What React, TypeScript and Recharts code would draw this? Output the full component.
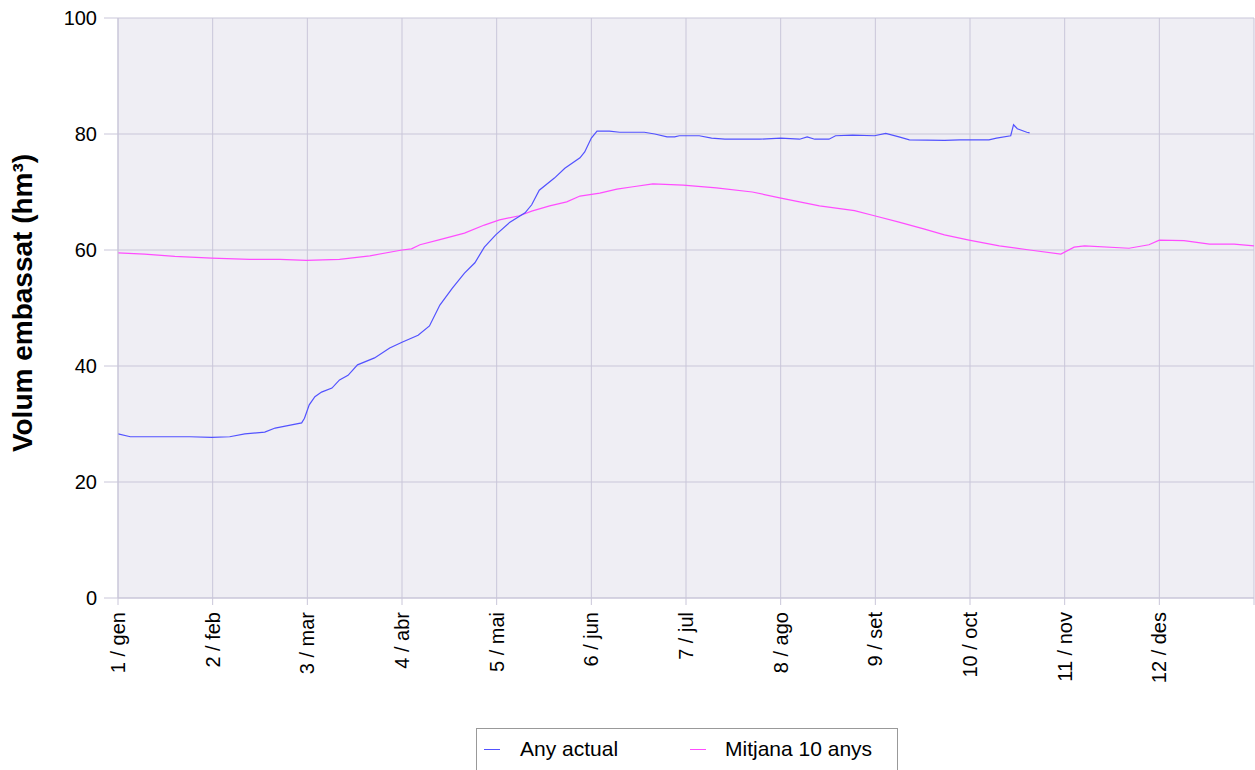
import { LineChart, Line, XAxis, YAxis, CartesianGrid } from 'recharts';

// x positions are in months from 1 January (0 = 1 / gen, 12 = end of year)
const monthLabels = ['1 / gen', '2 / feb', '3 / mar', '4 / abr', '5 / mai', '6 / jun', '7 / jul', '8 / ago', '9 / set', '10 / oct', '11 / nov', '12 / des'];
const monthTicks = [0, 1, 2, 3, 4, 5, 6, 7, 8, 9, 10, 11, 12];
const volumeTicks = [0, 20, 40, 60, 80, 100];

const actualMonths = [
  0, 0.13, 0.34, 0.76, 0.99, 1.18, 1.34, 1.55, 1.66, 1.82, 1.94, 1.97, 2.02, 2.08, 2.15, 2.26, 2.34, 2.43,
  2.53, 2.71, 2.87, 3.0, 3.17, 3.29, 3.4, 3.53, 3.66, 3.77, 3.87, 3.99, 4.14, 4.3, 4.37, 4.45, 4.61, 4.72,
  4.88, 4.93, 5.0, 5.06, 5.19, 5.3, 5.56, 5.67, 5.8, 5.88, 5.93, 6.14, 6.27, 6.41, 6.78, 7.0, 7.2, 7.28,
  7.36, 7.51, 7.58, 7.76, 7.99, 8.11, 8.25, 8.36, 8.73, 8.89, 8.99, 9.2, 9.28, 9.43, 9.46, 9.5, 9.6, 9.63,
];
const actualValues = [
  28.3, 27.8, 27.8, 27.8, 27.7, 27.8, 28.3, 28.6, 29.3, 29.8, 30.2, 31.0, 33.3, 34.7, 35.5, 36.2, 37.6, 38.4,
  40.2, 41.4, 43.1, 44.1, 45.3, 46.9, 50.5, 53.4, 56.0, 57.8, 60.5, 62.6, 64.8, 66.4, 67.8, 70.3, 72.4, 74.1,
  75.9, 76.9, 79.3, 80.5, 80.5, 80.3, 80.3, 80.0, 79.5, 79.5, 79.7, 79.7, 79.3, 79.1, 79.1, 79.3, 79.1, 79.5,
  79.1, 79.1, 79.7, 79.8, 79.7, 80.1, 79.5, 79.0, 78.9, 79.0, 79.0, 79.0, 79.3, 79.7, 81.6, 80.9, 80.3, 80.2,
];

const averageMonths = [
  0, 0.28, 0.6, 0.99, 1.39, 1.71, 1.99, 2.34, 2.66, 3.0, 3.1, 3.19, 3.4, 3.66, 3.87, 4.03, 4.24, 4.37, 4.56,
  4.74, 4.88, 5.09, 5.27, 5.44, 5.65, 5.97, 6.32, 6.7, 6.99, 7.2, 7.41, 7.78, 7.99, 8.25, 8.52, 8.73, 8.99,
  9.31, 9.63, 9.96, 10.1, 10.21, 10.68, 10.89, 11.0, 11.26, 11.53, 11.79, 12.0,
];
const averageValues = [
  59.5, 59.3, 58.9, 58.6, 58.4, 58.4, 58.2, 58.4, 59.0, 60.0, 60.2, 60.9, 61.8, 62.9, 64.3, 65.2, 65.9, 66.7, 67.6,
  68.3, 69.3, 69.8, 70.5, 70.9, 71.4, 71.2, 70.7, 70.0, 69.0, 68.3, 67.6, 66.8, 65.9, 64.8, 63.6, 62.6, 61.7,
  60.7, 60.0, 59.3, 60.5, 60.7, 60.3, 60.9, 61.7, 61.6, 61.0, 61.0, 60.7,
];

const actualData = actualMonths.map((m, i) => ({ month: m, value: actualValues[i] }));
const averageData = averageMonths.map((m, i) => ({ month: m, value: averageValues[i] }));

const FONT = '"Liberation Sans", Arial, sans-serif';
const GRID = '#c9c6d9';
const BLUE = '#5252ff';
const MAGENTA = '#ff4dff';

const MonthTick = (props: any) => {
  const { x, y, payload } = props;
  const label = monthLabels[payload.value] ?? '';
  return (
    <text
      x={x}
      y={y}
      dy="0.35em"
      transform={`rotate(-90, ${x}, ${y})`}
      textAnchor="end"
      fontSize={20}
      fontFamily={FONT}
      fill="#000"
    >
      {label}
    </text>
  );
};

const AxisTitle = () => (
  <text
    x={25}
    y={303}
    transform="rotate(-90, 25, 303)"
    textAnchor="middle"
    dominantBaseline="middle"
    fontSize={28}
    fontWeight="bold"
    fontFamily={FONT}
    fill="#000"
  >
    Volum embassat (hm³)
  </text>
);

const App = () => {
  return (
    <div style={{ position: 'absolute', left: 0, top: 0, width: 1255, height: 770, background: '#fff' }}>
      <LineChart width={1255} height={770} margin={{ top: 18, right: 1, bottom: 0, left: 0 }}>
        <CartesianGrid stroke={GRID} fill="#efeef4" ticks={monthTicks} />
        <XAxis
          type="number"
          dataKey="month"
          domain={[0, 12]}
          ticks={monthTicks}
          interval={0}
          height={172}
          tickSize={7}
          tickMargin={7}
          tick={<MonthTick />}
          tickLine={{ stroke: GRID }}
          axisLine={{ stroke: GRID }}
          allowDataOverflow
        />
        <YAxis
          type="number"
          domain={[0, 100]}
          ticks={volumeTicks}
          width={118}
          tickSize={14}
          tickMargin={7}
          tick={{ fontSize: 20, fontFamily: FONT, fill: '#000' }}
          tickLine={{ stroke: GRID }}
          axisLine={{ stroke: GRID }}
          label={{ content: () => <AxisTitle /> }}
        />
        <Line
          data={averageData}
          dataKey="value"
          type="linear"
          stroke={MAGENTA}
          strokeWidth={1.2}
          dot={false}
          isAnimationActive={false}
        />
        <Line
          data={actualData}
          dataKey="value"
          type="linear"
          stroke={BLUE}
          strokeWidth={1.2}
          dot={false}
          isAnimationActive={false}
        />
      </LineChart>
      <div
        style={{
          position: 'absolute',
          left: 476,
          top: 728,
          width: 420,
          height: 50,
          border: '1px solid #999',
          background: '#fff',
          fontFamily: FONT,
          fontSize: 21,
          color: '#000',
        }}
      >
        <div style={{ position: 'absolute', left: 7, top: 20, width: 16, height: 1, background: BLUE }} />
        <div style={{ position: 'absolute', left: 43, top: 9, lineHeight: '22px' }}>Any actual</div>
        <div style={{ position: 'absolute', left: 213, top: 20, width: 16, height: 1, background: MAGENTA }} />
        <div style={{ position: 'absolute', left: 248, top: 9, lineHeight: '22px' }}>Mitjana 10 anys</div>
      </div>
    </div>
  );
};

export default App;
